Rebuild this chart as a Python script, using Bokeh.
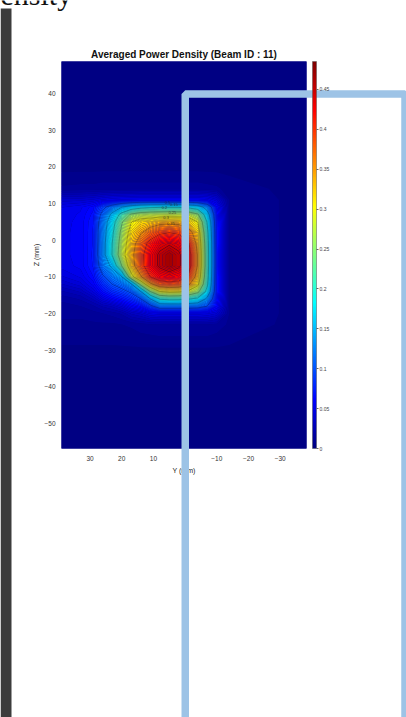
import numpy as np
from bokeh.plotting import figure
from bokeh.layouts import column
from bokeh.models import (Range1d, LinearColorMapper, ColorBar, FixedTicker,
                          CustomJSTickFormatter)
from bokeh.core.properties import value
from bokeh.embed import file_html
from bokeh.resources import INLINE

# Sample grid (mm): horizontal Y positions and vertical Z positions
y_mm = [-39, -14, -10, -7, -4, -1, 2, 5, 8, 11, 14, 17, 20, 23, 26, 29, 33, 40]
z_mm = [-57, -30, -23, -20, -18, -16, -14, -12, -10, -7, -4, -1, 2, 5, 7, 9, 11, 14, 20, 49]

# Averaged power density, one row per z_mm value, columns follow y_mm
power = [
    [0.000, 0.000, 0.000, 0.000, 0.000, 0.000, 0.000, 0.000, 0.000, 0.000, 0.000, 0.000, 0.000, 0.000, 0.000, 0.000, 0.000, 0.000],
    [0.001, 0.003, 0.003, 0.003, 0.003, 0.003, 0.003, 0.003, 0.003, 0.003, 0.003, 0.003, 0.003, 0.003, 0.003, 0.003, 0.003, 0.003],
    [0.001, 0.008, 0.012, 0.014, 0.014, 0.014, 0.014, 0.014, 0.014, 0.013, 0.012, 0.010, 0.009, 0.008, 0.008, 0.008, 0.008, 0.008],
    [0.001, 0.009, 0.039, 0.045, 0.047, 0.047, 0.047, 0.047, 0.047, 0.045, 0.035, 0.030, 0.020, 0.016, 0.014, 0.012, 0.010, 0.010],
    [0.001, 0.009, 0.060, 0.100, 0.117, 0.121, 0.122, 0.122, 0.122, 0.090, 0.065, 0.055, 0.040, 0.030, 0.025, 0.018, 0.014, 0.012],
    [0.001, 0.009, 0.066, 0.140, 0.190, 0.205, 0.211, 0.212, 0.205, 0.150, 0.100, 0.080, 0.068, 0.058, 0.045, 0.030, 0.020, 0.015],
    [0.001, 0.009, 0.070, 0.185, 0.262, 0.293, 0.307, 0.310, 0.300, 0.250, 0.150, 0.105, 0.090, 0.080, 0.065, 0.045, 0.030, 0.022],
    [0.001, 0.009, 0.070, 0.206, 0.309, 0.358, 0.380, 0.385, 0.378, 0.340, 0.265, 0.145, 0.115, 0.100, 0.080, 0.056, 0.042, 0.032],
    [0.001, 0.009, 0.070, 0.215, 0.332, 0.395, 0.425, 0.433, 0.425, 0.400, 0.345, 0.285, 0.150, 0.120, 0.095, 0.064, 0.050, 0.042],
    [0.001, 0.009, 0.071, 0.220, 0.346, 0.420, 0.456, 0.470, 0.456, 0.429, 0.385, 0.330, 0.250, 0.160, 0.120, 0.070, 0.056, 0.050],
    [0.001, 0.009, 0.071, 0.220, 0.346, 0.420, 0.456, 0.470, 0.456, 0.429, 0.387, 0.337, 0.280, 0.202, 0.132, 0.071, 0.056, 0.052],
    [0.001, 0.009, 0.070, 0.218, 0.338, 0.406, 0.438, 0.447, 0.438, 0.414, 0.376, 0.329, 0.272, 0.200, 0.131, 0.070, 0.056, 0.052],
    [0.001, 0.009, 0.070, 0.210, 0.325, 0.369, 0.394, 0.400, 0.394, 0.376, 0.347, 0.318, 0.262, 0.192, 0.128, 0.070, 0.056, 0.052],
    [0.001, 0.009, 0.069, 0.195, 0.298, 0.325, 0.335, 0.338, 0.335, 0.324, 0.318, 0.298, 0.245, 0.180, 0.122, 0.069, 0.056, 0.051],
    [0.001, 0.009, 0.066, 0.170, 0.255, 0.283, 0.280, 0.282, 0.280, 0.276, 0.272, 0.255, 0.215, 0.160, 0.110, 0.066, 0.055, 0.050],
    [0.001, 0.009, 0.060, 0.130, 0.175, 0.190, 0.197, 0.197, 0.197, 0.194, 0.188, 0.175, 0.150, 0.120, 0.090, 0.062, 0.053, 0.048],
    [0.001, 0.009, 0.040, 0.050, 0.052, 0.052, 0.052, 0.052, 0.052, 0.052, 0.052, 0.051, 0.050, 0.048, 0.045, 0.040, 0.037, 0.036],
    [0.001, 0.007, 0.010, 0.011, 0.012, 0.012, 0.012, 0.012, 0.012, 0.012, 0.012, 0.012, 0.012, 0.012, 0.012, 0.011, 0.011, 0.010],
    [0.001, 0.002, 0.002, 0.002, 0.002, 0.002, 0.002, 0.002, 0.002, 0.002, 0.002, 0.002, 0.002, 0.002, 0.002, 0.002, 0.002, 0.002],
    [0.000, 0.000, 0.000, 0.000, 0.000, 0.000, 0.000, 0.000, 0.000, 0.000, 0.000, 0.000, 0.000, 0.000, 0.000, 0.000, 0.000, 0.000],
]

y_ticks = [30, 20, 10, 0, -10, -20, -30]
z_ticks = [40, 30, 20, 10, 0, -10, -20, -30, -40, -50]
cbar_ticks = [0, 0.05, 0.1, 0.15, 0.2, 0.25, 0.3, 0.35, 0.4, 0.45]
line_levels = [0.1, 0.15, 0.2, 0.25, 0.3, 0.35, 0.4, 0.45]

# contour labels along the upper edge of the spot
clabel_text = ["0.1", "0.15", "0.2", "0.25", "0.3", "0.35"]
clabel_y = [5.5, 3.5, 6.5, 4.0, 6.0, 4.5]
clabel_z = [10.3, 9.7, 9.0, 7.6, 6.3, 4.6]

CMAX = 0.485
FONT = "Liberation Sans"
W, H = 406, 717


def jet_hex(t):
    t = min(max(t, 0.0), 1.0)
    r = min(max(1.5 - abs(4 * t - 3), 0.0), 1.0)
    g = min(max(1.5 - abs(4 * t - 2), 0.0), 1.0)
    b = min(max(1.5 - abs(4 * t - 1), 0.0), 1.0)
    return "#%02x%02x%02x" % (round(r * 255), round(g * 255), round(b * 255))


jet256 = [jet_hex(i / 255) for i in range(256)]

p = figure(width=W, height=H, output_backend="svg", toolbar_location=None,
           x_range=Range1d(39, -38.3), y_range=Range1d(-56.8, 48.7),
           min_border_left=61, min_border_right=100,
           min_border_top=61, min_border_bottom=269)
p.frame_align = False
p.background_fill_color = jet_hex(0)
p.border_fill_color = "white"
p.outline_line_color = None
p.xgrid.visible = False
p.ygrid.visible = False

p.title.text = "Averaged Power Density (Beam ID : 11)"
p.title.align = "center"
p.title.text_font = FONT
p.title.text_font_size = "10px"
p.title.text_font_style = "bold"
p.title.text_color = "#111111"
p.title.standoff = 3

z = np.array(power)

# smooth jet-coloured fill
fill_levels = np.linspace(-0.001, CMAX, 98)
fill_cols = [jet_hex(0.5 * (fill_levels[i] + fill_levels[i + 1]) / CMAX)
             for i in range(len(fill_levels) - 1)]
cf = p.contour(y_mm, z_mm, z, levels=fill_levels, fill_color=fill_cols)
cf.line_renderer.visible = False
cf.fill_renderer.glyph.line_color = "fill_color"
cf.fill_renderer.glyph.line_width = 0.6

# black iso-lines
p.contour(y_mm, z_mm, z, levels=line_levels, line_color="black",
          line_width=0.5, line_alpha=0.45)

p.text(x=clabel_y, y=clabel_z, text=clabel_text, text_font=value(FONT),
       text_font_size="4px", text_color="#222222", text_align="center",
       text_baseline="middle", text_alpha=0.8)

for ax, ticks, lab, so, lso in ((p.xaxis[0], y_ticks, "Y (mm)", 7, 3),
                                (p.yaxis[0], z_ticks, "Z (mm)", 6, 1)):
    ax.ticker = FixedTicker(ticks=ticks)
    ax.axis_label = lab
    ax.axis_line_color = None
    ax.major_tick_line_color = None
    ax.major_tick_out = 0
    ax.major_tick_in = 0
    ax.minor_tick_line_color = None
    ax.minor_tick_out = 0
    ax.major_label_text_font = FONT
    ax.major_label_text_font_size = "6.5px"
    ax.major_label_text_color = "#333333"
    ax.major_label_standoff = so
    ax.axis_label_text_font = FONT
    ax.axis_label_text_font_size = "7px"
    ax.axis_label_text_font_style = "normal"
    ax.axis_label_text_color = "#222222"
    ax.axis_label_standoff = lso

# overlay layer in page pixels: side strip, heading fragment, colour bar, selection frame
deco = figure(width=W, height=H, output_backend="svg", toolbar_location=None,
              x_range=Range1d(0, W), y_range=Range1d(H, 0),
              x_axis_type=None, y_axis_type=None, min_border=0)
deco.frame_align = False
deco.grid.visible = False
deco.outline_line_color = None
deco.background_fill_alpha = 0
deco.border_fill_alpha = 0

mapper = LinearColorMapper(palette=jet256, low=0, high=CMAX)
cb = ColorBar(color_mapper=mapper, width=4, height=387,
              location=(312, H - 448),
              ticker=FixedTicker(ticks=cbar_ticks),
              formatter=CustomJSTickFormatter(code="return String(Math.round(tick*100)/100)"),
              major_label_text_font=FONT, major_label_text_font_size="5px",
              major_label_text_color="#444444",
              major_tick_in=0, major_tick_out=2, major_tick_line_color="#666666",
              bar_line_color="#555555", bar_line_width=0.5,
              border_line_color=None, background_fill_alpha=0,
              margin=0, padding=0, label_standoff=1)
deco.add_layout(cb)

deco.quad(left=[0], right=[11], top=[8], bottom=[H],
          fill_color="#3c3c3c", line_color=None)
deco.quad(left=[184.75], right=[404.5], top=[93.5], bottom=[H + 30],
          fill_alpha=0, line_color="#9dc3e6", line_width=7.5)
deco.text(x=[0], y=[-6.3], text=["ensity"], text_font=value("Liberation Serif"),
          text_font_size="30px", text_color="#111111", text_baseline="alphabetic")
deco.styles = {"position": "absolute", "top": "0px", "left": "0px",
               "z-index": "5", "pointer-events": "none"}

page = column(p, deco)
open("out.html", "w").write(file_html(page, INLINE))
